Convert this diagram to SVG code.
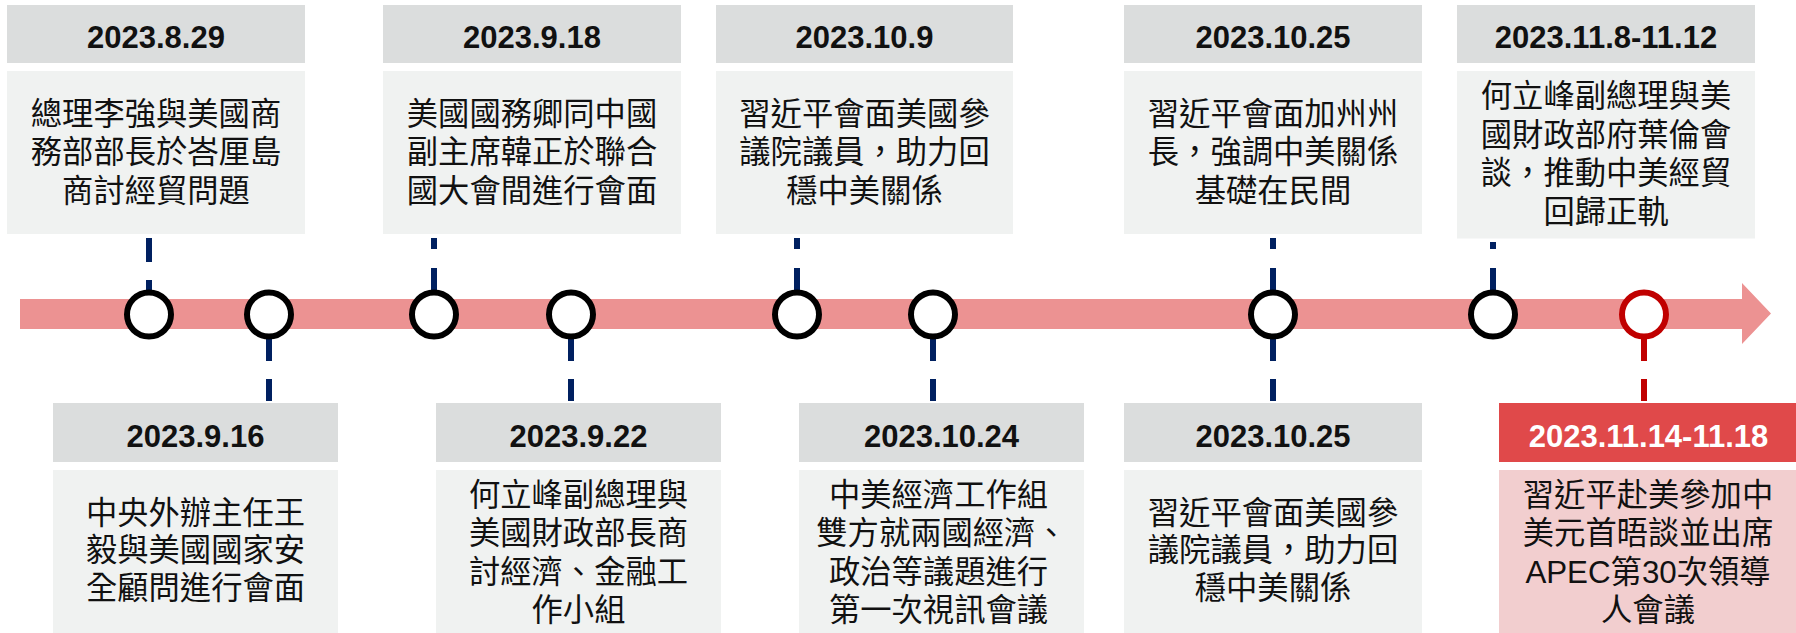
<svg xmlns="http://www.w3.org/2000/svg" width="1796" height="633" viewBox="0 0 1796 633">
<style>
.hd{fill:#DBDDDD}
.bd{fill:#F0F2F1}
.hdr{fill:#E0494A}
.bdr{fill:#F2CECF}
.dt{font-family:"Liberation Sans",Arial,sans-serif;font-weight:bold;font-size:31px;fill:#111;text-anchor:middle}
.dtw{fill:#fff}
.tx{font-family:"Liberation Sans","Noto Sans CJK TC",sans-serif;font-size:31.3px;fill:#111;text-anchor:middle;dominant-baseline:central}
.dot{fill:#fff;stroke:#000;stroke-width:6}
.dotr{fill:#fff;stroke:#C00000;stroke-width:6}
.cn{fill:none;stroke:#002060;stroke-width:6}
.cnr{fill:none;stroke:#C00000;stroke-width:6}
</style>
<g id="timeline">
<path d="M20 299H1742V283L1771 313.5L1742 344V329H20Z" fill="#EC9292"/>
</g>
<g id="connectors">
<path class="cn" d="M149 238V262M149 280V292"/>
<path class="cn" d="M434 238V249M434 268V292"/>
<path class="cn" d="M797 238V249M797 268V292"/>
<path class="cn" d="M1273 238V249M1273 268V292"/>
<path class="cn" d="M1493 242V249M1493 268V292"/>
<path class="cn" d="M269 336V361M269 379V401"/>
<path class="cn" d="M571 336V361M571 379V401"/>
<path class="cn" d="M933 336V361M933 379V401"/>
<path class="cn" d="M1273 336V361M1273 379V401"/>
<path class="cnr" d="M1644 336V361M1644 379V401"/>
</g>
<g id="n-20230829">
<circle class="dot" cx="149" cy="314.5" r="22"/>
<rect class="hd" x="7" y="5" width="298" height="58"/>
<text class="dt" x="156" y="48">2023.8.29</text>
<rect class="bd" x="7" y="71" width="298" height="163"/>
<text class="tx" x="156"><tspan x="156" y="113.5">總理李強與美國商</tspan><tspan x="156" y="152">務部部長於峇厘島</tspan><tspan x="156" y="190.5">商討經貿問題</tspan></text>
</g>
<g id="n-20230916">
<circle class="dot" cx="269" cy="314.5" r="22"/>
<rect class="hd" x="53" y="403" width="285" height="59"/>
<text class="dt" x="195.5" y="447">2023.9.16</text>
<rect class="bd" x="53" y="470" width="285" height="163"/>
<text class="tx" x="195.5"><tspan x="195.5" y="512.5">中央外辦主任王</tspan><tspan x="195.5" y="550">毅與美國國家安</tspan><tspan x="195.5" y="587.5">全顧問進行會面</tspan></text>
</g>
<g id="n-20230918">
<circle class="dot" cx="434" cy="314.5" r="22"/>
<rect class="hd" x="383" y="5" width="298" height="58"/>
<text class="dt" x="532" y="48">2023.9.18</text>
<rect class="bd" x="383" y="71" width="298" height="163"/>
<text class="tx" x="532"><tspan x="532" y="113.5">美國國務卿同中國</tspan><tspan x="532" y="152">副主席韓正於聯合</tspan><tspan x="532" y="190.5">國大會間進行會面</tspan></text>
</g>
<g id="n-20230922">
<circle class="dot" cx="571" cy="314.5" r="22"/>
<rect class="hd" x="436" y="403" width="285" height="59"/>
<text class="dt" x="578.5" y="447">2023.9.22</text>
<rect class="bd" x="436" y="470" width="285" height="163"/>
<text class="tx" x="578.5"><tspan x="578.5" y="495">何立峰副總理與</tspan><tspan x="578.5" y="533.3">美國財政部長商</tspan><tspan x="578.5" y="571.6">討經濟、金融工</tspan><tspan x="578.5" y="610">作小組</tspan></text>
</g>
<g id="n-20231009">
<circle class="dot" cx="797" cy="314.5" r="22"/>
<rect class="hd" x="716" y="5" width="297" height="58"/>
<text class="dt" x="864.5" y="48">2023.10.9</text>
<rect class="bd" x="716" y="71" width="297" height="163"/>
<text class="tx" x="864.5"><tspan x="864.5" y="113.5">習近平會面美國參</tspan><tspan x="864.5" y="152">議院議員，助力回</tspan><tspan x="864.5" y="190.5">穩中美關係</tspan></text>
</g>
<g id="n-20231024">
<circle class="dot" cx="933" cy="314.5" r="22"/>
<rect class="hd" x="799" y="403" width="285" height="59"/>
<text class="dt" x="941.5" y="447">2023.10.24</text>
<rect class="bd" x="799" y="470" width="285" height="163"/>
<text class="tx" x="941.5"><tspan x="938.5" y="495">中美經濟工作組</tspan><tspan x="941.5" y="533.3">雙方就兩國經濟、</tspan><tspan x="938.5" y="571.6">政治等議題進行</tspan><tspan x="938.5" y="610">第一次視訊會議</tspan></text>
</g>
<g id="n-20231025a">
<circle class="dot" cx="1273" cy="314.5" r="22"/>
<rect class="hd" x="1124" y="5" width="298" height="58"/>
<text class="dt" x="1273" y="48">2023.10.25</text>
<rect class="bd" x="1124" y="71" width="298" height="163"/>
<text class="tx" x="1273"><tspan x="1273" y="113.5">習近平會面加州州</tspan><tspan x="1273" y="152">長，強調中美關係</tspan><tspan x="1273" y="190.5">基礎在民間</tspan></text>
</g>
<g id="n-20231025b">
<rect class="hd" x="1124" y="403" width="298" height="59"/>
<text class="dt" x="1273" y="447">2023.10.25</text>
<rect class="bd" x="1124" y="470" width="298" height="163"/>
<text class="tx" x="1273"><tspan x="1273" y="512.5">習近平會面美國參</tspan><tspan x="1273" y="550">議院議員，助力回</tspan><tspan x="1273" y="587.5">穩中美關係</tspan></text>
</g>
<g id="n-20231108">
<circle class="dot" cx="1493" cy="314.5" r="22"/>
<rect class="hd" x="1457" y="5" width="298" height="58"/>
<text class="dt" x="1606" y="48">2023.11.8-11.12</text>
<rect class="bd" x="1457" y="71" width="298" height="167.5"/>
<text class="tx" x="1606"><tspan x="1606" y="96">何立峰副總理與美</tspan><tspan x="1606" y="134.5">國財政部府葉倫會</tspan><tspan x="1606" y="173">談，推動中美經貿</tspan><tspan x="1606" y="211.5">回歸正軌</tspan></text>
</g>
<g id="n-20231114">
<circle class="dotr" cx="1644" cy="314.5" r="22"/>
<rect class="hdr" x="1499" y="403" width="298" height="59"/>
<text class="dt dtw" x="1648.5" y="447">2023.11.14-11.18</text>
<rect class="bdr" x="1499" y="470" width="298" height="163"/>
<text class="tx" x="1648"><tspan x="1648" y="495">習近平赴美參加中</tspan><tspan x="1648" y="533.3">美元首晤談並出席</tspan><tspan x="1648" y="571.6">APEC第30次領導</tspan><tspan x="1648" y="610">人會議</tspan></text>
</g>
</svg>
